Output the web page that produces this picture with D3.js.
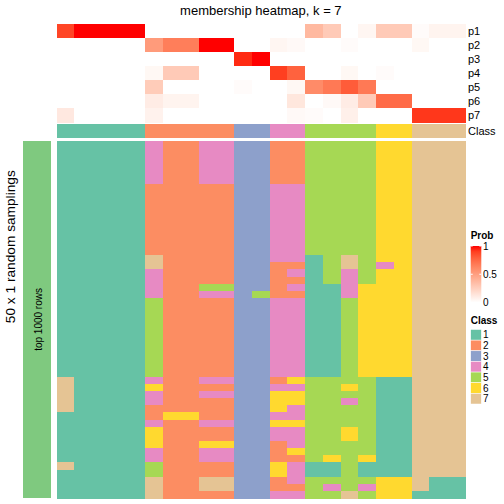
<!DOCTYPE html>
<html>
<head>
<meta charset="utf-8">
<script src="https://cdn.jsdelivr.net/npm/d3@7"></script>
<style>
  html, body { margin: 0; padding: 0; background: #fff; }
  svg { display: block; font-family: "Liberation Sans", Arial, sans-serif; }
</style>
</head>
<body>
<svg id="chart" width="504" height="504"></svg>
<script>
// ---------------- data ----------------
const title = "membership heatmap, k = 7";
const probRows = ["p1", "p2", "p3", "p4", "p5", "p6", "p7"];
const classIds = [1, 2, 3, 4, 5, 6, 7];
const classColors = ["#66C2A5", "#FC8D62", "#8DA0CB", "#E78AC3", "#A6D854", "#FFD92F", "#E5C494"];

// membership probabilities, one value per column (23 columns)
const p1 = [0.88, 1, 1, 1, 1, 0, 0, 0, 0, 0, 0, 0, 0, 0, 0.37, 0.28, 0, 0.05, 0.28, 0.28, 0.02, 0.06, 0.06];
const p2 = [0, 0, 0, 0, 0, 0.52, 0.66, 0.66, 1, 1, 0, 0, 0.05, 0.03, 0, 0, 0.02, 0, 0, 0, 0.04, 0, 0];
const p3 = [0, 0, 0, 0, 0, 0, 0, 0, 0, 0, 0.95, 1, 0, 0, 0, 0, 0, 0, 0, 0, 0, 0, 0];
const p4 = [0, 0, 0, 0, 0, 0.04, 0.28, 0.28, 0, 0, 0, 0, 0.9, 0.78, 0, 0, 0.04, 0, 0.02, 0, 0, 0, 0];
const p5 = [0, 0, 0, 0, 0, 0.27, 0, 0, 0, 0, 0.02, 0, 0, 0.04, 0.6, 0.68, 0.8, 0.68, 0, 0, 0, 0, 0];
const p6 = [0, 0, 0, 0, 0, 0.1, 0.06, 0.06, 0, 0, 0, 0, 0, 0.13, 0, 0.03, 0.1, 0.28, 0.74, 0.74, 0, 0, 0];
const p7 = [0.12, 0, 0, 0, 0, 0.07, 0, 0, 0, 0, 0, 0, 0, 0.03, 0.02, 0, 0.08, 0, 0, 0, 0.92, 0.92, 0.92];

// consensus class per column
const consensusClass = [1, 1, 1, 1, 1, 2, 2, 2, 2, 2, 3, 3, 4, 4, 5, 5, 5, 5, 6, 6, 7, 7, 7];

// class labels of the 50 random samplings, per column, as [class, run length] from top row down
const samplingRuns = [
  [[1, 33], [7, 5], [1, 7], [7, 1], [1, 4]],
  [[1, 50]],
  [[1, 50]],
  [[1, 50]],
  [[1, 50]],
  [[4, 6], [2, 10], [7, 2], [4, 4], [5, 11], [4, 1], [6, 1], [4, 2], [2, 2], [4, 1], [6, 3], [4, 2], [5, 2], [7, 3]],
  [[2, 38], [6, 1], [2, 11]],
  [[2, 38], [6, 1], [2, 11]],
  [[4, 6], [2, 14], [5, 1], [4, 1], [2, 11], [4, 1], [2, 1], [4, 1], [2, 3], [4, 1], [2, 2], [6, 1], [4, 2], [2, 2], [7, 2], [2, 1]],
  [[4, 6], [2, 14], [5, 1], [4, 1], [2, 11], [4, 1], [2, 1], [4, 1], [2, 3], [4, 1], [2, 2], [6, 1], [4, 2], [2, 2], [7, 2], [2, 1]],
  [[3, 50]],
  [[3, 21], [5, 1], [3, 28]],
  [[2, 6], [4, 11], [2, 5], [4, 11], [2, 1], [4, 1], [6, 3], [4, 1], [6, 1], [4, 2], [2, 3], [6, 2], [2, 2], [4, 1]],
  [[2, 6], [4, 11], [2, 1], [4, 1], [2, 1], [4, 1], [2, 1], [4, 11], [6, 1], [4, 1], [6, 2], [4, 2], [6, 1], [4, 3], [6, 1], [2, 1], [4, 3], [2, 1], [4, 1]],
  [[5, 16], [1, 17], [5, 12], [1, 2], [5, 3]],
  [[5, 20], [1, 13], [5, 11], [6, 1], [1, 2], [5, 1], [4, 1], [5, 1]],
  [[5, 16], [7, 2], [4, 4], [5, 12], [6, 1], [5, 1], [4, 1], [5, 3], [6, 2], [5, 7], [7, 1]],
  [[5, 20], [6, 13], [5, 11], [6, 1], [1, 2], [5, 1], [4, 1], [5, 1]],
  [[6, 17], [4, 1], [6, 15], [1, 14], [6, 3]],
  [[6, 33], [1, 14], [6, 3]],
  [[7, 49], [1, 1]],
  [[7, 47], [1, 3]],
  [[7, 47], [1, 3]]
];
const nSamplings = 50;
const probTicks = [0, 0.5, 1];
const probLegendTitle = "Prob";
const classLegendTitle = "Class";
const leftTitle = "50 x 1 random samplings";
const barLabel = "top 1000 rows";

// ---------------- drawing ----------------
const svg = d3.select("#chart");
const probSeries = [p1, p2, p3, p4, p5, p6, p7];
const nCols = consensusClass.length;

const x = d3.scaleBand().domain(d3.range(nCols)).range([56.7, 465]).padding(0);
const yP = d3.scaleBand().domain(probRows).range([24, 122]).padding(0);
const yBody = d3.scaleBand().domain(d3.range(nSamplings)).range([140.7, 498.2]).padding(0);
const probColor = d3.scaleLinear().domain([0, 1]).range(["#FFFFFF", "#FF0000"]).interpolate(d3.interpolateLab).clamp(true);
const classColor = d3.scaleOrdinal().domain(classIds).range(classColors);

// title
svg.append("text")
  .attr("x", (x.range()[0] + x.range()[1]) / 2).attr("y", 14.5)
  .attr("text-anchor", "middle").attr("font-size", 13).attr("fill", "#000")
  .text(title);

// probability rows
const gProb = svg.append("g").attr("shape-rendering", "crispEdges");
probRows.forEach((r, ri) => {
  gProb.selectAll(null).data(probSeries[ri]).enter().append("rect")
    .attr("x", (d, i) => x(i)).attr("y", yP(r))
    .attr("width", x.bandwidth() + 0.5).attr("height", yP.bandwidth() + 0.5)
    .attr("fill", d => probColor(d));
});
// row labels
probRows.forEach(r => {
  svg.append("text").attr("x", 468).attr("y", yP(r) + yP.bandwidth() / 2)
    .attr("dy", "0.36em").attr("font-size", 11).text(r);
});

// consensus class row
const classRowY = 124, classRowH = 13.7;
svg.append("g").attr("shape-rendering", "crispEdges")
  .selectAll("rect").data(consensusClass).enter().append("rect")
  .attr("x", (d, i) => x(i)).attr("y", classRowY)
  .attr("width", x.bandwidth() + 0.5).attr("height", classRowH)
  .attr("fill", d => classColor(d));
svg.append("text").attr("x", 468).attr("y", classRowY + classRowH / 2)
  .attr("dy", "0.36em").attr("font-size", 11).text("Class");

// body: sampling class labels
const cells = [];
samplingRuns.forEach((runs, ci) => {
  let row = 0;
  runs.forEach(([cls, len]) => {
    for (let k = 0; k < len; k++) { cells.push({ col: ci, row: row, cls: cls }); row++; }
  });
});
svg.append("g").attr("shape-rendering", "crispEdges")
  .selectAll("rect").data(cells).enter().append("rect")
  .attr("x", d => x(d.col)).attr("y", d => yBody(d.row))
  .attr("width", x.bandwidth() + 0.5).attr("height", yBody.bandwidth() + 0.5)
  .attr("fill", d => classColor(d.cls));

// left green bar
const bodyTop = yBody.range()[0], bodyBot = yBody.range()[1];
svg.append("rect").attr("x", 23).attr("y", bodyTop).attr("width", 28).attr("height", bodyBot - bodyTop)
  .attr("fill", "#7FC97F").attr("shape-rendering", "crispEdges");
svg.append("text")
  .attr("transform", `translate(41.5, ${(bodyTop + bodyBot) / 2}) rotate(-90)`)
  .attr("text-anchor", "middle").attr("font-size", 10).text(barLabel);
svg.append("text")
  .attr("transform", `translate(15, 246.7) rotate(-90)`)
  .attr("text-anchor", "middle").attr("font-size", 13.7).text(leftTitle);

// Prob legend
const lgX = 470.7, barW = 10.6;
const yLeg = d3.scaleLinear().domain([0, 1]).range([302.5, 246]);
svg.append("text").attr("x", lgX).attr("y", 238.5).attr("font-size", 10).attr("font-weight", "bold").text(probLegendTitle);
const defs = svg.append("defs");
const grad = defs.append("linearGradient").attr("id", "probGrad").attr("x1", 0).attr("y1", 1).attr("x2", 0).attr("y2", 0);
d3.range(0, 1.0001, 0.1).forEach(t => {
  grad.append("stop").attr("offset", t).attr("stop-color", probColor(t));
});
svg.append("rect").attr("x", lgX).attr("y", yLeg(1)).attr("width", barW).attr("height", yLeg(0) - yLeg(1))
  .attr("fill", "url(#probGrad)");
probTicks.forEach(t => {
  if (t > 0) {
    svg.append("line").attr("x1", lgX).attr("x2", lgX + 2).attr("y1", yLeg(t)).attr("y2", yLeg(t)).attr("stroke", "#fff").attr("stroke-width", 1);
    svg.append("line").attr("x1", lgX + barW - 2).attr("x2", lgX + barW).attr("y1", yLeg(t)).attr("y2", yLeg(t)).attr("stroke", "#fff").attr("stroke-width", 1);
  }
  svg.append("text").attr("x", 483).attr("y", yLeg(t)).attr("dy", "0.36em").attr("font-size", 10).text(d3.format("")(t));
});

// Class legend
svg.append("text").attr("x", lgX).attr("y", 323.5).attr("font-size", 10).attr("font-weight", "bold").text(classLegendTitle);
const yCls = d3.scaleBand().domain(classIds).range([329.5, 404]).padding(0);
const gCls = svg.append("g");
classIds.forEach(c => {
  gCls.append("rect").attr("x", lgX).attr("y", yCls(c)).attr("width", barW).attr("height", yCls.bandwidth())
    .attr("fill", classColor(c)).attr("stroke", "#fff").attr("stroke-width", 0.5);
  gCls.append("text").attr("x", 483).attr("y", yCls(c) + yCls.bandwidth() / 2).attr("dy", "0.36em")
    .attr("font-size", 10).text(c);
});
</script>
</body>
</html>
